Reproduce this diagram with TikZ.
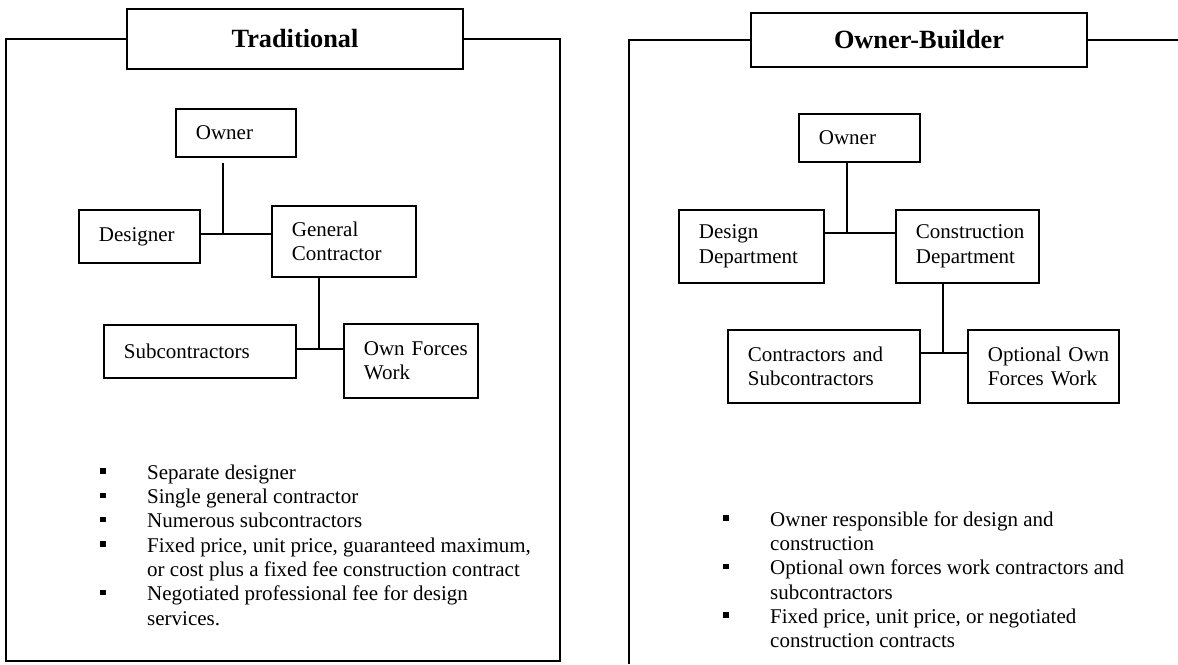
\documentclass[tikz,border=0pt]{standalone}
\usepackage{fontspec}
\setmainfont{Liberation Serif}
\usetikzlibrary{calc}
\newcommand\bodyfont{\fontsize{21}{24.3}\selectfont}
\newcommand\headfont{\fontsize{26.3}{30}\selectfont\bfseries}
\newcommand\blt{\leavevmode\llap{\rule[5.5pt]{5.5pt}{5.5pt}\hspace{41.5pt}}}
\begin{document}
\begin{tikzpicture}[x=1pt,y=-1pt,
  frame/.style={line width=1.8pt, line join=miter},
  conn/.style={line width=1.8pt},
  titlebox/.style={draw, fill=white, line width=1.8pt, inner sep=0pt, font=\headfont},
  orgbox/.style={draw, line width=1.8pt, anchor=north west, inner xsep=20pt,
                 inner ysep=0pt, align=left, font=\bodyfont},
  bullets/.style={anchor=north west, inner sep=0pt, align=left, font=\bodyfont}]
\useasboundingbox[fill=white] (0,0) rectangle (1178,664);

% ---------- Traditional ----------
\node[titlebox, minimum width=336pt, minimum height=60pt] (ltitle) at (295,39) {Traditional};
\draw[frame] (ltitle.west) -| (6,661) -| (560,39) -- (ltitle.east);

\node[orgbox, text width=80pt,  minimum height=48pt] (lowner)    at (175,108) {Owner};
\node[orgbox, text width=81pt,  minimum height=53pt] (ldesigner) at (78,209)  {Designer};
\node[orgbox, text width=104pt, minimum height=71pt] (lgc)       at (271,205) {General\\Contractor};
\node[orgbox, text width=152pt, minimum height=53pt] (lsub)      at (103,324) {Subcontractors};
\node[orgbox, text width=94pt,  minimum height=74pt] (lown)      at (343,323) {Own~Forces\\Work};

\coordinate (lj1) at (223,234);
\coordinate (lj2) at (319,349);
\draw[conn] ($(lowner.south -| lj1)+(0,5)$) -- (lj1);
\draw[conn] (ldesigner.east |- lj1) -- (lgc.west |- lj1);
\draw[conn] (lgc.south -| lj2) -- (lj2);
\draw[conn] (lsub.east |- lj2) -- (lown.west |- lj2);

\node[bullets] (llist) at (147,463) {\rule{0pt}{16pt}\blt Separate designer\\
\blt Single general contractor\\
\blt Numerous subcontractors\\
\blt Fixed price, unit price, guaranteed maximum,\\
or cost plus a fixed fee construction contract\\
\blt Negotiated professional fee for design\\
services.};

% ---------- Owner-Builder ----------
\node[titlebox, minimum width=336pt, minimum height=54pt] (rtitle) at (919,40) {Owner-Builder};
\draw[frame] (rtitle.east) -- (1178,40);
\draw[frame] (rtitle.west) -| (629,664);

\node[orgbox, text width=81pt,  minimum height=48pt] (rowner)  at (798,113) {Owner};
\node[orgbox, text width=105pt, minimum height=73pt] (rdesign) at (678,209) {Design\\Department};
\node[orgbox, text width=103pt, minimum height=73pt] (rcons)   at (895,209) {Construction\\Department};
\node[orgbox, text width=152pt, minimum height=73pt] (rcontr)  at (727,329) {Contractors~and\\Subcontractors};
\node[orgbox, text width=111pt, minimum height=73pt] (ropt)    at (967,329) {Optional~Own\\Forces~Work};

\coordinate (rj1) at (847,233);
\coordinate (rj2) at (943,353);
\draw[conn] (rowner.south -| rj1) -- (rj1);
\draw[conn] (rdesign.east |- rj1) -- (rcons.west |- rj1);
\draw[conn] (rcons.south -| rj2) -- (rj2);
\draw[conn] (rcontr.east |- rj2) -- (ropt.west |- rj2);

\node[bullets] (rlist) at (770,510) {\rule{0pt}{16pt}\blt Owner responsible for design and\\
construction\\
\blt Optional own forces work contractors and\\
subcontractors\\
\blt Fixed price, unit price, or negotiated\\
construction contracts};
\end{tikzpicture}
\end{document}
